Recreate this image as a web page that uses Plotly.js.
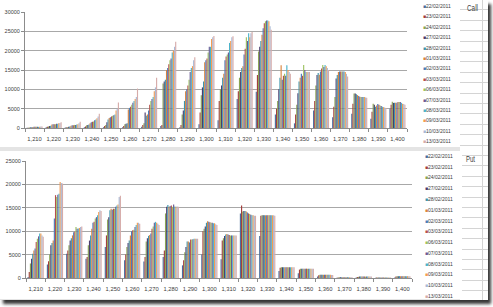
<!DOCTYPE html>
<html>
<head>
<meta charset="utf-8">
<script src="https://cdn.plot.ly/plotly-3.0.1.min.js"></script>
<style>
  html, body { margin:0; padding:0; background:#ffffff; width:493px; height:307px; overflow:hidden; }
  #frame { position:absolute; left:0; top:0; width:488px; height:300px; background:#e4e4e4;
           box-shadow: 3px 4px 3px rgba(20,20,20,0.85); }
  #cells { position:absolute; left:460px; top:0; width:28px; height:300px; background-color:#ffffff;
           background-image:
             repeating-linear-gradient(to bottom, transparent 0px, transparent 9.4px, #d4d4d4 9.4px, #d4d4d4 10.4px),
             linear-gradient(to right, transparent 22px, #d4d4d4 22px, #d4d4d4 23px, transparent 23px); }
  .panel { position:absolute; background:#ffffff; outline:1px solid #a0a0a0; outline-offset:-1px; }
  #labels { position:absolute; left:460px; top:0; width:28px; height:300px; }
</style>
</head>
<body>
<div id="frame">
  <div id="cells"></div>
  <svg id="labels" width="28" height="300" xmlns="http://www.w3.org/2000/svg">
    <text x="7" y="10.5" font-family="Liberation Sans, Arial, sans-serif" font-size="9" fill="#404040"
          textLength="11" lengthAdjust="spacingAndGlyphs">Call</text>
    <text x="6" y="161.5" font-family="Liberation Sans, Arial, sans-serif" font-size="9" fill="#404040"
          textLength="9" lengthAdjust="spacingAndGlyphs">Put</text>
  </svg>
  <div id="callChart" class="panel" style="left:0px; top:0px; width:460px; height:147px;"></div>
  <div id="putChart" class="panel" style="left:0px; top:151px; width:462px; height:148px;"></div>
</div>
<script>
const dates = ['22/02/2011','23/02/2011','24/02/2011','27/02/2011','28/02/2011','01/03/2011','02/03/2011',
               '03/03/2011','06/03/2011','07/03/2011','08/03/2011','09/03/2011','10/03/2011','13/03/2011'];
const strikes = ['1,210','1,220','1,230','1,240','1,250','1,260','1,270','1,280','1,290','1,300',
                 '1,310','1,320','1,330','1,340','1,350','1,360','1,370','1,380','1,390','1,400'];
const seriesColors = ['#4a6e9e','#a33f3c','#8ba553','#4b3d6e','#3e95ad','#d8843e','#4a7db8',
                      '#b5504c','#9dc261','#6c5a94','#4bb3ca','#f49b50','#a8b9d6','#d6aba9'];

// Call open interest per strike (one value per date, in legend order)
const call_1210 = [50,80,100,150,200,250,300,300,350,350,300,350,400,400];
const call_1220 = [200,300,400,500,600,900,1000,1000,1000,1100,1100,1200,1300,1500];
const call_1230 = [100,150,200,300,400,600,700,700,800,800,900,1000,1200,1600];
const call_1240 = [200,400,700,800,900,1200,1500,1600,1700,2000,2200,2500,3000,3700];
const call_1250 = [200,500,800,1500,2200,2600,2800,3000,3200,3300,3500,4500,5000,6600];
const call_1260 = [200,500,1000,1100,1200,4800,5200,5500,6000,6500,7000,7500,8000,10200];
const call_1270 = [300,800,1200,4000,3200,3500,4500,6000,7000,7500,8000,9500,10500,13000];
const call_1280 = [500,800,11500,12000,12500,15000,15500,16500,17500,18000,19500,20000,21000,22300];
const call_1290 = [200,800,3500,4500,7000,9500,10000,11000,12500,14500,15500,16000,17500,18300];
const call_1300 = [1000,4000,8500,10500,12000,17000,17500,18000,19500,21000,21000,23000,23500,23800];
const call_1310 = [2000,7000,10000,11000,13000,14000,17500,18500,19000,19500,22000,22500,23500,23700];
const call_1320 = [7500,9500,13000,14500,15500,16000,19000,20500,23500,22500,24500,23500,24500,24800];
const call_1330 = [9400,13700,19800,21000,22500,24100,25800,27100,27600,27800,27800,27600,26300,25400];
const call_1340 = [3500,5000,7000,10000,13000,16200,12500,13500,14000,13500,16200,15000,14500,14000];
const call_1350 = [1200,3500,6000,9000,12000,13000,14000,13500,16300,15000,14500,14500,14500,14500];
const call_1360 = [4500,7000,11000,13700,14200,13800,14600,15400,16300,15800,16300,16000,15500,15000];
const call_1370 = [2800,5500,8000,12800,13700,14500,14600,14600,14600,14600,14600,14500,14000,13300];
const call_1380 = [3700,6300,8900,8900,8700,8500,8300,8100,8000,8000,8000,8000,7900,7800];
const call_1390 = [2400,4200,6300,6000,5500,5800,6200,6000,5800,5700,5500,5400,5300,5200];
const call_1400 = [5000,6000,6800,6500,6500,6500,6500,6700,6700,6700,6500,6300,6200,6000];

// Put open interest per strike
const put_1210 = [200,1300,3100,4100,5200,5900,6300,7700,8400,8900,9500,9500,9100,8800];
const put_1220 = [2900,3600,5000,7000,7500,8000,12700,17700,17300,17800,18000,20500,20300,20200];
const put_1230 = [5200,5900,7000,8000,8500,9100,9800,9900,10900,10500,10600,10700,10900,11000];
const put_1240 = [4100,4500,7000,8000,9100,10500,11800,12000,12700,13000,13400,14100,14500,14300];
const put_1250 = [6600,9100,12500,13000,14500,14800,14600,14800,14800,15200,15500,15700,17300,17600];
const put_1260 = [3800,5000,6600,7500,8000,9100,10000,10200,10300,10900,11300,11800,11800,11600];
const put_1270 = [3500,4500,7800,8500,9000,9200,9500,10500,11000,11800,12000,11800,11600,11300];
const put_1280 = [4500,5900,13800,15200,15600,15200,15400,15500,15200,15700,15300,15200,15300,15200];
const put_1290 = [2700,3800,5500,6600,7800,7800,7600,8200,8200,8300,8400,8400,8400,8400];
const put_1300 = [5000,10000,10500,11000,11800,12100,12000,11900,11800,11800,11700,11700,11500,11300];
const put_1310 = [4000,8000,8500,9000,9300,9400,9300,9200,9100,9100,9100,9100,9100,9100];
const put_1320 = [13800,15500,14200,14300,14300,14200,14000,13800,13700,13500,13400,13400,13300,13300];
const put_1330 = [9000,13300,13400,13400,13400,13400,13400,13400,13400,13400,13400,13400,13400,13300];
const put_1340 = [1500,2200,2300,2300,2300,2300,2300,2300,2300,2300,2300,2300,2300,2300];
const put_1350 = [1000,1800,2000,2000,2000,2000,2000,2000,2000,2000,2000,2000,2000,2000];
const put_1360 = [300,600,700,700,700,700,700,700,700,700,700,700,650,650];
const put_1370 = [50,100,150,150,150,150,150,150,150,150,150,150,150,150];
const put_1380 = [100,200,250,300,300,300,300,300,300,300,300,300,300,300];
const put_1390 = [50,100,100,100,100,100,100,100,100,100,100,100,100,100];
const put_1400 = [100,300,350,400,400,400,400,400,400,400,400,400,400,400];

const callRows = [call_1210,call_1220,call_1230,call_1240,call_1250,call_1260,call_1270,call_1280,call_1290,call_1300,
                  call_1310,call_1320,call_1330,call_1340,call_1350,call_1360,call_1370,call_1380,call_1390,call_1400];
const putRows = [put_1210,put_1220,put_1230,put_1240,put_1250,put_1260,put_1270,put_1280,put_1290,put_1300,
                 put_1310,put_1320,put_1330,put_1340,put_1350,put_1360,put_1370,put_1380,put_1390,put_1400];

const FONT = '"Liberation Sans", Arial, sans-serif';
const TXT = '#404040';

function traces(rows) {
  return dates.map((d, i) => ({
    type: 'bar', name: d, x: strikes, y: rows.map(r => r[i]),
    marker: { color: seriesColors[i], line: { width: 0 } }, hoverinfo: 'skip'
  }));
}

function legendAnnotations(W, H, m, legX, legY0, legStep) {
  const pw = W - m.l - m.r, ph = H - m.t - m.b;
  return dates.map((d, i) => ({
    xref: 'paper', yref: 'paper',
    x: (legX - m.l) / pw, y: 1 - (legY0 + i * legStep - m.t) / ph,
    xanchor: 'left', yanchor: 'middle', showarrow: false,
    text: '<span style="color:' + seriesColors[i] + '">■</span>' + d,
    font: { family: FONT, size: 5, color: TXT }
  }));
}

function layoutFor(W, H, m, ymax, legX, legY0, legStep) {
  return {
    width: W, height: H, margin: m,
    paper_bgcolor: '#ffffff', plot_bgcolor: '#ffffff',
    barmode: 'group', bargap: 0.16, bargroupgap: 0,
    showlegend: false,
    font: { family: FONT, color: TXT },
    xaxis: {
      type: 'category', tickson: 'boundaries', ticks: 'outside', ticklen: 3, tickcolor: '#8c8c8c',
      showline: true, linecolor: '#8c8c8c', linewidth: 1, showgrid: false, zeroline: false,
      tickangle: 0, automargin: false,
      tickfont: { family: FONT, size: 5.8, color: TXT }, ticklabelstandoff: 5, fixedrange: true
    },
    yaxis: {
      range: [0, ymax], tick0: 0, dtick: 5000, tickformat: 'd',
      ticks: 'outside', ticklen: 3, tickcolor: '#8c8c8c', automargin: false,
      showline: true, linecolor: '#8c8c8c', linewidth: 1,
      showgrid: true, gridcolor: '#a8a8a8', gridwidth: 1, zeroline: false,
      tickfont: { family: FONT, size: 5.5, color: TXT }, fixedrange: true
    },
    annotations: legendAnnotations(W, H, m, legX, legY0, legStep)
  };
}

const cfg = { staticPlot: true, displayModeBar: false };

const mCall = { l: 25, r: 53, t: 12, b: 19, pad: 0 };
Plotly.newPlot('callChart', traces(callRows), layoutFor(460, 147, mCall, 30000, 421, 6, 10.4), cfg);

const mPut = { l: 26, r: 50, t: 10, b: 21, pad: 0 };
Plotly.newPlot('putChart', traces(putRows), layoutFor(462, 148, mPut, 25000, 423, 5, 10.75), cfg);
</script>
</body>
</html>
